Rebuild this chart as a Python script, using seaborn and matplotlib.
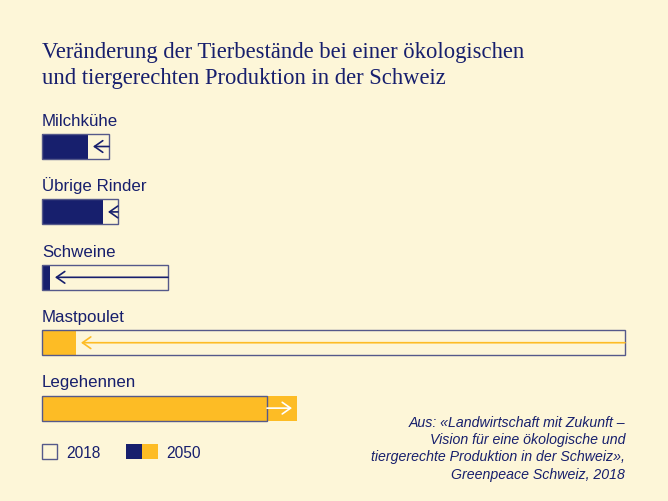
import matplotlib
matplotlib.use('Agg')
import matplotlib.pyplot as plt
import seaborn as sns
import pandas as pd
from matplotlib.patches import Rectangle

# ---- data (thousand animals) ----
categories = ['Milchkühe', 'Übrige Rinder', 'Schweine', 'Mastpoulet', 'Legehennen']
bestand_2018 = [804, 912, 1512, 6996, 2700]
bestand_2050 = [552, 732, 96, 408, 3060]
legend_labels = ['2018', '2050']
title_lines = ['Veränderung der Tierbestände bei einer ökologischen',
               'und tiergerechten Produktion in der Schweiz']
source_lines = ['Aus: «Landwirtschaft mit Zukunft –',
                'Vision für eine ökologische und',
                'tiergerechte Produktion in der Schweiz»,',
                'Greenpeace Schweiz, 2018']

NAVY = '#171f6d'
AMBER = '#fdbc25'
BG = '#fdf6d8'
EDGE = '#55598a'
bar_colors = [NAVY, NAVY, NAVY, AMBER, AMBER]
arrow_colors = [NAVY, NAVY, NAVY, AMBER, 'white']

sns.set_theme(style='white')
plt.rcParams['font.family'] = ['Liberation Sans', 'DejaVu Sans']

df = pd.DataFrame({'Tierart': categories, 'y2018': bestand_2018, 'y2050': bestand_2050})

W, H = 668, 501
fig = plt.figure(figsize=(W / 100, H / 100), dpi=100, facecolor=BG)
ax = fig.add_axes([0, 0, 1, 1])
ax.set_facecolor(BG)

BAR_W = 0.382
sns.barplot(data=df, y='Tierart', x='y2050', hue='Tierart', palette=bar_colors,
            width=BAR_W, orient='h', legend=False, ax=ax, linewidth=0, saturation=1)
sns.barplot(data=df, y='Tierart', x='y2018', width=BAR_W, orient='h', fill=False,
            color=EDGE, linewidth=1.0, ax=ax, saturation=1)

# scale: 12 units per pixel, origin at px 42
ax.set_xlim(-42 * 12, (W - 42) * 12)
ax.set_ylim(5.420, -2.240)
ax.axis('off')

gap = 60
for i, cat in enumerate(categories):
    ax.text(0, i - BAR_W / 2 - 0.125, cat, va='baseline', ha='left',
            fontsize=12.2, color=NAVY)
    b18, b50 = bestand_2018[i], bestand_2050[i]
    end = b50 + gap if b50 < b18 else b50 - gap
    ax.annotate('', xy=(end, i), xytext=(b18, i),
                arrowprops=dict(arrowstyle='->,head_length=0.5,head_width=0.35',
                                color=arrow_colors[i], lw=1.2,
                                shrinkA=0, shrinkB=0))


def fx(px):
    return px / W


def fy(py):
    return 1 - py / H


# title
for k, line in enumerate(title_lines):
    fig.text(fx(42), fy(58.3 + k * 25.4), line, family=['Liberation Serif', 'DejaVu Serif'],
             fontsize=16.3, color=NAVY, va='baseline', ha='left')

# legend
fig.add_artist(Rectangle((fx(42), fy(459)), 15 / W, 15.5 / H, transform=fig.transFigure,
                         fill=False, edgecolor=EDGE, lw=1.0))
fig.add_artist(Rectangle((fx(126), fy(459)), 16 / W, 15.5 / H, transform=fig.transFigure,
                         facecolor=NAVY, edgecolor='none'))
fig.add_artist(Rectangle((fx(142), fy(459)), 16 / W, 15.5 / H, transform=fig.transFigure,
                         facecolor=AMBER, edgecolor='none'))
fig.text(fx(66), fy(457.5), legend_labels[0], fontsize=11.2, color=NAVY, va='baseline')
fig.text(fx(166.5), fy(457.5), legend_labels[1], fontsize=11.2, color=NAVY, va='baseline')

# source
for k, line in enumerate(source_lines):
    fig.text(fx(625), fy(426.7 + k * 17.3), line, fontsize=10.2, style='italic',
             color=NAVY, va='baseline', ha='right')

fig.savefig('out.png', dpi=100, facecolor=BG)
